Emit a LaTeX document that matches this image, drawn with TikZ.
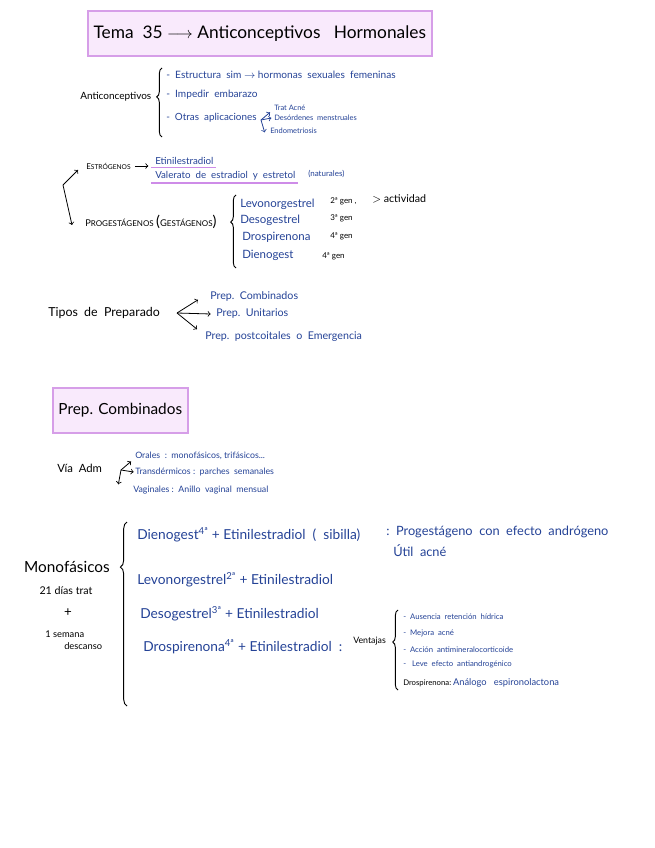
\documentclass[tikz,border=0pt]{standalone}
\usepackage{fontspec}
\setmainfont{Lato}
\usetikzlibrary{positioning,decorations.pathreplacing}
\definecolor{inchiostro}{RGB}{36,66,150}
\definecolor{fondoviola}{RGB}{249,234,252}
\definecolor{bordoviola}{RGB}{214,158,232}
\definecolor{sottolinea}{RGB}{206,140,232}
\newcommand{\fs}[1]{\fontsize{#1}{#1}\selectfont}
\begin{document}
\begin{tikzpicture}[x=0.75pt,y=-0.75pt,>=to,
		nero/.style={anchor=west, inner sep=0pt, text=black},
		blu/.style={anchor=west, inner sep=0pt, text=inchiostro},
		riquadro/.style={draw=bordoviola, fill=fondoviola, line width=1.2pt, anchor=north west, inner sep=0pt},
		graffa/.style={decorate, decoration={brace, amplitude=4pt, aspect=#1}, line width=0.7pt},
		graffa/.default=0.5,
		freccia/.style={->, line width=0.6pt},
		sottolineato/.style={draw=sottolinea, line width=1.4pt},
		]
		\useasboundingbox (0,0) rectangle (655,848);
		
		% ── Titolo ──
		\node[riquadro, minimum width=258pt, minimum height=33.75pt] (titolo) at (87,10)
		{\fs{13}Tema\ \ 35 $\longrightarrow$ Anticonceptivos\ \ \ Hormonales};
		
		% ===================== Anticonceptivos =====================
		\node[nero, font=\fs{7.5}] (anti) at (80,97) {Anticonceptivos};
		\draw[graffa=0.58] (162,137) -- (162,68);
		\node[blu, font=\fs{7.6}] (estruct) at (166,75) {-\ \ Estructura\ \ sim $\rightarrow$ hormonas\ \ sexuales\ \ femeninas};
		\node[blu, font=\fs{7.6}] (impedir) at (166,95) {-\ \ Impedir\ \ embarazo};
		\node[blu, font=\fs{7.4}] (otras) at (166,118) {-\ \ Otras\ \ aplicaciones};
		\node[blu, font=\fs{5.6}] (acne) at (274,108) {Trat\ Acné};
		\node[blu, font=\fs{5.6}] (desord) at (274,118) {Desórdenes\ \ menstruales};
		\node[blu, font=\fs{5.6}] (endom) at (270,131) {Endometriosis};
		\coordinate (nodoapl) at (261,120);
		\draw[freccia, inchiostro] (nodoapl) -- ([xshift=-3pt,yshift=-1pt]acne.south west);
		\draw[freccia, inchiostro] (nodoapl) -- ([xshift=-2pt]desord.west);
		\draw[freccia, inchiostro] (nodoapl) -- ([xshift=-4pt,yshift=-1pt]endom.west);
		
		% ===================== Estrogeni / progestageni =====================
		\node[nero, font=\fs{6}] (estr) at (86,166) {E{\fs{5}STRÓGENOS}};
		\node[blu, font=\fs{7.3}] (etinil) at (155,161) {Etinilestradiol};
		\node[blu, font=\fs{7.3}] (valer) at (155,176) {Valerato\ \ de\ \ estradiol\ \ y\ \ estretol};
		\node[blu, font=\fs{6}] (natur) at (308,174) {(naturales)};
		\draw[freccia] ([xshift=3pt]estr.east) -- ([xshift=-5pt]etinil.west |- estr.east);
		\draw[sottolineato] ([xshift=-3pt,yshift=-2pt]etinil.south west) -- ([xshift=2pt,yshift=-2pt]etinil.south east);
		\draw[sottolineato] ([xshift=-3pt,yshift=-2pt]valer.south west) -- ([xshift=2pt,yshift=-2pt]valer.south east);
		
		\node[nero, font=\fs{7}] (prog) at (85,222) {P{\fs{6}ROGESTÁGENOS} {\fs{11}(}G{\fs{6}ESTÁGENOS}{\fs{11})}};
		\coordinate (vertice) at (63,185);
		\coordinate (puntaE) at (78,170);
		\coordinate (puntaP) at (72,225);
		\draw[freccia] (vertice) -- (puntaE);
		\draw[freccia] (vertice) -- (puntaP);
		\draw[graffa=0.63] (236,268) -- (236,195);
		\node[blu, font=\fs{8.6}] (levo) at (240,204) {Levonorgestrel};
		\node[blu, font=\fs{8.6}] (deso) at (240,220) {Desogestrel};
		\node[blu, font=\fs{8.6}] (drosp) at (242,237) {Drospirenona};
		\node[blu, font=\fs{8.6}] (dieno) at (242,255) {Dienogest};
		\node[nero, font=\fs{6}] (gen2) at (330,201) {2ª gen ,};
		\node[nero, font=\fs{6}] (gen3) at (330,218) {3ª gen};
		\node[nero, font=\fs{6}] (gen4) at (330,236) {4ª gen};
		\node[nero, font=\fs{6}] (gen4b) at (322,256) {4ª gen};
		\node[nero, font=\fs{8}] (attiv) at (372,199) {$>$ actividad};
		
		% ===================== Tipos de preparado =====================
		\node[nero, font=\fs{9.3}] (tipos) at (48,313) {Tipos\ \ de\ \ Preparado};
		\node[blu, font=\fs{8}] (comb) at (210,296) {Prep.\ \ Combinados};
		\node[blu, font=\fs{8}] (unit) at (216,314) {Prep.\ \ Unitarios};
		\node[blu, font=\fs{8}] (postc) at (205,337) {Prep.\ \ postcoitales\ \ o\ \ Emergencia};
		\coordinate (nodotipi) at (177,313);
		\draw[freccia] (nodotipi) -- ([xshift=-9pt,yshift=1pt]comb.south west);
		\draw[freccia] (nodotipi) -- ([xshift=-4pt]unit.west);
		\draw[freccia] (nodotipi) -- ([xshift=-6pt,yshift=2pt]postc.north west);
		
		% ===================== Prep. combinados =====================
		\node[riquadro, minimum width=101.25pt, minimum height=33.75pt] (combtit) at (52,387)
		{\fs{11.5}Prep. Combinados};
		\node[nero, font=\fs{8.5}] (via) at (57,468) {Vía\ \ Adm};
		\node[blu, font=\fs{6.6}] (orali) at (135,456) {Orales\ \ :\ \ monofásicos,\ trifásicos...};
		\node[blu, font=\fs{6.6}] (transd) at (135,472) {Transdérmicos :\ \ parches\ \ semanales};
		\node[blu, font=\fs{6.6}] (vagin) at (133,490) {Vaginales :\ \ Anillo\ \ vaginal\ \ mensual};
		\coordinate (nodovia) at (121,470);
		\draw[freccia] (nodovia) -- ([xshift=-3pt,yshift=-1pt]orali.south west);
		\draw[freccia] (nodovia) -- ([xshift=-1pt]transd.west);
		\draw[freccia] (nodovia) -- ([xshift=-11pt,yshift=1pt]vagin.north west);
		
		% ===================== Monofasici =====================
		\node[inner sep=0pt, font=\fs{11.5}] (mono) at (67,567) {Monofásicos};
		\node[inner sep=0pt, font=\fs{8}] (giorni) at (66,591) {21 días trat};
		\node[inner sep=0pt, font=\fs{10}] (piu) at (68,613) {+};
		\node[nero, font=\fs{7}] (settim) at (45,634) {1 semana};
		\node[nero, font=\fs{7}] (riposo) at (64,646) {descanso};
		\draw[graffa=0.755, decoration={amplitude=5pt}] (127,706) -- (127,522);
		
		\node[blu, font=\fs{10.3}] (comb1) at (137,535) {Dienogest\textsuperscript{4ª} + Etinilestradiol\ \ (\ \ sibilla)};
		\node[blu, font=\fs{9.6}] (effetto) at (386,532) {:\ \ Progestágeno\ \ con\ \ efecto\ \ andrógeno};
		\node[blu, font=\fs{9.6}] (utile) at (393,551) {Útil\ \ acné};
		\node[blu, font=\fs{10.3}] (comb2) at (137,580) {Levonorgestrel\textsuperscript{2ª} + Etinilestradiol};
		\node[blu, font=\fs{10.3}] (comb3) at (140,614) {Desogestrel\textsuperscript{3ª} + Etinilestradiol};
		\node[blu, font=\fs{10.3}] (comb4) at (143,647) {Drospirenona\textsuperscript{4ª} + Etinilestradiol\ \ :};
		\node[nero, font=\fs{6.6}] (vent) at (353,641) {Ventajas};
		
		% ── Vantaggi ──
		\draw[graffa=0.6] (398,690) -- (398,610);
		\node[blu, font=\fs{5.8}] (v1) at (403,617) {-\ \ Ausencia\ \ retención\ \ hídrica};
		\node[blu, font=\fs{5.8}] (v2) at (403,633) {-\ \ Mejora\ \ acné};
		\node[blu, font=\fs{5.8}] (v3) at (403,650) {-\ \ Acción\ \ antimineralocorticoide};
		\node[blu, font=\fs{5.8}] (v4) at (403,664) {-\ \ \ Leve\ \ efecto\ \ antiandrogénico};
		\node[nero, font=\fs{5.8}] (v5) at (403,683) {Drospirenona:};
		\node[blu, font=\fs{7}, right=1pt of v5] (v5b) {Análogo\ \ \ espironolactona};
		
	\end{tikzpicture}
\end{document}
